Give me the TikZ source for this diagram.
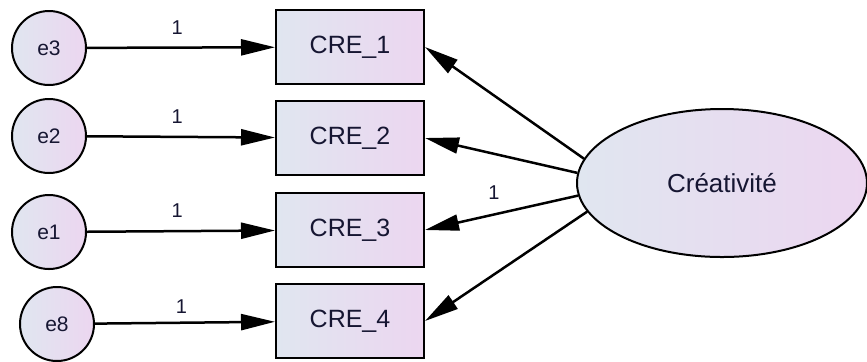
\documentclass[tikz,border=0pt]{standalone}
\usepackage{fontspec}
\setmainfont{Liberation Sans}
\usepackage{tikz}
\usetikzlibrary{shapes, arrows.meta, positioning}

\definecolor{amosleft}{RGB}{224,230,240}
\definecolor{amosright}{RGB}{236,214,240}
\definecolor{amostext}{RGB}{22,22,50}

\begin{document}
\begin{tikzpicture}[x=0.5pt, y=-0.5pt]
		\tikzstyle{errorvar}=[draw=black, line width=1pt, circle, minimum size=37pt, inner sep=0pt, left color=amosleft, right color=amosright, text=amostext, font=\fontsize{10.5}{12}\selectfont]
		\tikzstyle{observed}=[draw=black, line width=1pt, rectangle, minimum width=74pt, minimum height=37pt, inner sep=0pt, left color=amosleft, right color=amosright, text=amostext, font=\fontsize{12.5}{14}\selectfont]
		\tikzstyle{latent}=[draw=black, line width=1pt, ellipse, minimum width=145pt, minimum height=74pt, inner sep=0pt, left color=amosleft, right color=amosright, text=amostext, font=\fontsize{13}{15}\selectfont]
		\tikzstyle{path}=[line width=1.25pt, -{Triangle[length=17pt, width=8pt]}]
		\tikzstyle{weight}=[text=amostext, font=\fontsize{10}{11}\selectfont, inner sep=2pt]

		\useasboundingbox (0,0) rectangle (867,361);

		\node (e3) at (49,48) [errorvar] {e3};
		\node (e2) at (49,136) [errorvar] {e2};
		\node (e1) at (49,232) [errorvar] {e1};
		\node (e8) at (57,324) [errorvar] {e8};

		\node (cre1) at (350,47) [observed] {CRE\_1};
		\node (cre2) at (350,138) [observed] {CRE\_2};
		\node (cre3) at (350,230) [observed] {CRE\_3};
		\node (cre4) at (350,321) [observed] {CRE\_4};

		\node (crea) at (722,183) [latent] {Créativité};

		\draw [path] (e3) -- node [weight, pos=0.48, above=4pt] {1} (cre1);
		\draw [path] (e2) -- node [weight, pos=0.48, above=4pt] {1} (cre2);
		\draw [path] (e1) -- node [weight, pos=0.48, above=4pt] {1} (cre3);
		\draw [path] (e8) -- node [weight, pos=0.48, above=2pt] {1} (cre4);

		\draw [path] (crea.170) -- (cre1.east);
		\draw [path] (crea.176) -- (cre2.east);
		\draw [path] (crea.185) -- node [weight, pos=0.55, above=5pt] {1} (cre3.east);
		\draw [path] (crea.192) -- (cre4.east);
\end{tikzpicture}
\end{document}
